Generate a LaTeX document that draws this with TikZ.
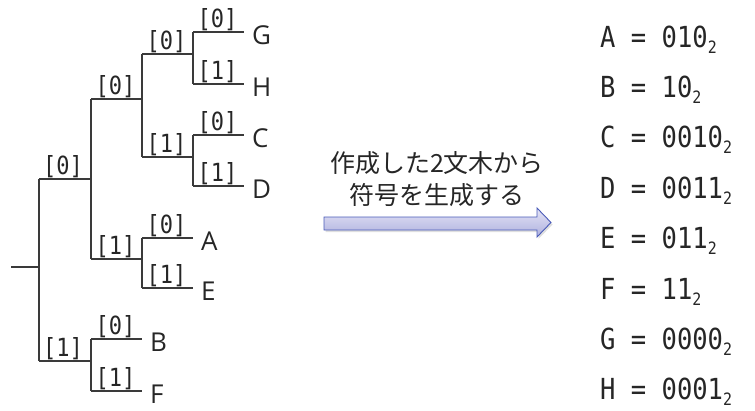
\documentclass[tikz,border=0pt]{standalone}
\usepackage{fontspec}
\setmainfont{Open Sans}
\newfontfamily\monof[FakeStretch=0.88]{DejaVu Sans Mono}
\newfontfamily\cjkf{Noto Sans CJK JP}
\usetikzlibrary{shadows}
\definecolor{txt}{HTML}{262626}
\definecolor{lnc}{HTML}{3A3A3A}
\definecolor{arrtop}{HTML}{E4E4F6}
\definecolor{arrbot}{HTML}{AEB0DE}
\definecolor{arrbd}{HTML}{4A5BB8}
\tikzset{
  ln/.style={draw=lnc, line width=1.1pt},
  lbl/.style={font=\monof\fontsize{25}{25}\selectfont, text=txt, inner sep=0pt, anchor=south},
  leaf/.style={font=\fontsize{26}{26}\selectfont, text=txt, inner sep=0pt, anchor=west},
  code/.style={font=\monof\fontsize{29}{29}\selectfont, text=txt, inner sep=0pt, anchor=base west},
}
\newcommand{\subtwo}{\raisebox{-6pt}{\fontsize{17}{17}\selectfont 2}}
\begin{document}
\begin{tikzpicture}[x=1pt,y=-1pt]
\useasboundingbox (0,0) rectangle (755,410);
% junction coordinates
\coordinate (s) at (11,267);
\coordinate (R) at (39,267);
\coordinate (R0) at (39,179);
\coordinate (R1) at (39,361);
\coordinate (N0) at (91,179);
\coordinate (N0t) at (91,99);
\coordinate (N0b) at (91,259);
\coordinate (N00) at (142,99);
\coordinate (N00t) at (142,54);
\coordinate (N00b) at (142,157);
\coordinate (N000) at (193,54);
\coordinate (N000t) at (193,32);
\coordinate (N000b) at (193,84);
\coordinate (N001) at (193,157);
\coordinate (N001t) at (193,135);
\coordinate (N001b) at (193,186);
\coordinate (N01) at (142,259);
\coordinate (N01t) at (142,238);
\coordinate (N01b) at (142,288);
\coordinate (N1) at (91,361);
\coordinate (N1t) at (91,339);
\coordinate (N1b) at (91,391);
% leaf ends
\coordinate (eG) at (244,32);
\coordinate (eH) at (244,84);
\coordinate (eC) at (244,135);
\coordinate (eD) at (244,186);
\coordinate (eA) at (193,238);
\coordinate (eE) at (193,288);
\coordinate (eB) at (142,339);
\coordinate (eF) at (142,391);
% leaves
\node[leaf] (G) at (252,35) {G};
\node[leaf] (H) at (252,87) {H};
\node[leaf] (C) at (252,138) {C};
\node[leaf] (D) at (252,189) {D};
\node[leaf] (A) at (201,241) {A};
\node[leaf] (E) at (201,291) {E};
\node[leaf] (B) at (150,342) {B};
\node[leaf] (F) at (150,394) {F};
% root
\draw[ln] (s) -- (R);
\draw[ln] (R0) -- (R1);
% verticals
\draw[ln] (N0t) -- (N0b);
\draw[ln] (N00t) -- (N00b);
\draw[ln] (N000t) -- (N000b);
\draw[ln] (N001t) -- (N001b);
\draw[ln] (N01t) -- (N01b);
\draw[ln] (N1t) -- (N1b);
% horizontal branches with labels
\draw[ln] (R0) -- (N0) node[lbl, midway, above=1pt, xshift=-2pt] (l1) {[0]};
\draw[ln] (R1) -- (N1) node[lbl, midway, above=1pt, xshift=-2pt] (l2) {[1]};
\draw[ln] (N0t) -- (N00) node[lbl, midway, above=1pt, xshift=-1pt] (l3) {[0]};
\draw[ln] (N0b) -- (N01) node[lbl, midway, above=1pt, xshift=-1pt] (l4) {[1]};
\draw[ln] (N00t) -- (N000) node[lbl, midway, above=1pt, xshift=-1pt] (l5) {[0]};
\draw[ln] (N00b) -- (N001) node[lbl, midway, above=1pt, xshift=-1pt] (l6) {[1]};
\draw[ln] (N000t) -- (eG) node[lbl, midway, above=1pt, xshift=-1pt] (l7) {[0]};
\draw[ln] (N000b) -- (eH) node[lbl, midway, above=1pt, xshift=-1pt] (l8) {[1]};
\draw[ln] (N001t) -- (eC) node[lbl, midway, above=1pt, xshift=-1pt] (l9) {[0]};
\draw[ln] (N001b) -- (eD) node[lbl, midway, above=1pt, xshift=-1pt] (l10) {[1]};
\draw[ln] (N01t) -- (eA) node[lbl, midway, above=1pt, xshift=-1pt] (l11) {[0]};
\draw[ln] (N01b) -- (eE) node[lbl, midway, above=1pt, xshift=-1pt] (l12) {[1]};
\draw[ln] (N1t) -- (eB) node[lbl, midway, above=1pt, xshift=-1pt] (l13) {[0]};
\draw[ln] (N1b) -- (eF) node[lbl, midway, above=1pt, xshift=-1pt] (l14) {[1]};
% arrow
\path[draw=arrbd, line width=0.9pt, top color=arrtop, bottom color=arrbot,
  drop shadow={opacity=0.25, shadow xshift=1.5pt, shadow yshift=-2pt}]
  (324,217) -- (537,217) -- (537,208) -- (551,222.5) -- (537,237) -- (537,230) -- (324,230) -- cycle;
\node[font=\cjkf\fontsize{25}{32}\selectfont, text=txt, align=center, inner sep=0pt] (cap) at (437,179)
  {作成した2文木から\\符号を生成する};
% codes
\node[code] (cA) at (600,47) {A = 010\subtwo};
\node[code] (cB) at (600,97) {B = 10\subtwo};
\node[code] (cC) at (600,147.5) {C = 0010\subtwo};
\node[code] (cD) at (600,198) {D = 0011\subtwo};
\node[code] (cE) at (600,248.5) {E = 011\subtwo};
\node[code] (cF) at (600,299) {F = 11\subtwo};
\node[code] (cG) at (600,349.5) {G = 0000\subtwo};
\node[code] (cH) at (600,399) {H = 0001\subtwo};
\end{tikzpicture}
\end{document}
